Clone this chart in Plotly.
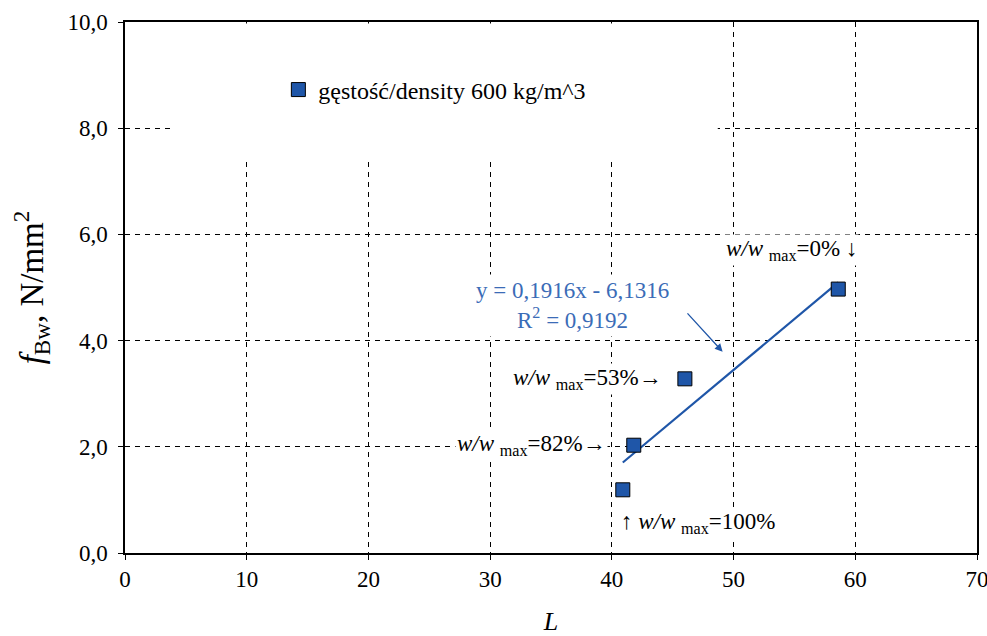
import numpy as np
import plotly.graph_objects as go

# Measured points: L versus f_Bw for density 600 kg/m^3
L_vals = [58.6, 46.0, 41.8, 40.9]
f_vals = [4.97, 3.28, 2.03, 1.19]
moisture_labels = ["0%", "53%", "82%", "100%"]

# Linear trend reported on the chart
slope = 0.1916
intercept = -6.1316
r_squared = 0.9192

x_ticks = [0, 10, 20, 30, 40, 50, 60, 70]
y_ticks = [0, 2, 4, 6, 8, 10]

FONT = "Liberation Serif"
BLUE = "#1F56A8"
TEXT_BLUE = "#3B6CB7"

fig = go.Figure()

# trend line over the data span
tx = np.array([min(L_vals), max(L_vals)])
ty = slope * tx + intercept
fig.add_trace(go.Scatter(x=tx, y=ty, mode="lines",
                         line=dict(color=BLUE, width=2.2),
                         showlegend=False, hoverinfo="skip"))

fig.add_trace(go.Scatter(
    x=L_vals, y=f_vals, mode="markers",
    name="gęstość/density 600 kg/m^3",
    marker=dict(symbol="square", size=14, color=BLUE,
                line=dict(color="black", width=1)),
))

# white panel behind the legend hides the grid there
fig.add_shape(type="rect", xref="x", yref="y", x0=4.1, x1=48.7, y0=7.42, y1=9.97,
              fillcolor="white", line=dict(width=0), layer="between")

ann_font = dict(family=FONT, size=23, color="black")

def ww(pct):
    return "<i>w/w</i> <sub>max</sub>=" + pct

annotations = [
    dict(x=60.3, y=5.7, text=ww(moisture_labels[0]) + " ↓", xanchor="right", yanchor="middle"),
    dict(x=44.3, y=3.28, text=ww(moisture_labels[1]) + "→", xanchor="right", yanchor="middle"),
    dict(x=39.7, y=2.03, text=ww(moisture_labels[2]) + "→", xanchor="right", yanchor="middle"),
    dict(x=40.6, y=0.57, text="↑ " + ww(moisture_labels[3]), xanchor="left", yanchor="middle"),
]
for a in annotations:
    fig.add_annotation(xref="x", yref="y", showarrow=False, bgcolor="white",
                       font=ann_font, borderpad=1, **a)

eq_text = ("y = {:.4f}x - {:.4f}".format(slope, -intercept).replace(".", ",")
           + "<br>R<sup>2</sup> = " + "{:.4f}".format(r_squared).replace(".", ","))
fig.add_annotation(xref="x", yref="y", x=36.8, y=4.67, text=eq_text, showarrow=False,
                   bgcolor="white", font=dict(family=FONT, size=23, color=TEXT_BLUE),
                   align="center", borderpad=3)

# pointer from the equation to the trend line
fig.add_annotation(xref="x", yref="y", axref="x", ayref="y",
                   x=49.1, y=3.79, ax=46.1, ay=4.54, text="", showarrow=True,
                   arrowhead=2, arrowsize=1.2, arrowwidth=1.3, arrowcolor=BLUE)

fig.update_layout(
    width=987, height=636,
    margin=dict(l=125, r=10, t=22, b=83),
    paper_bgcolor="white", plot_bgcolor="white",
    separators=",.",
    font=dict(family=FONT, size=23, color="black"),
    legend=dict(x=0.18, y=0.872, xanchor="left", yanchor="middle",
                bgcolor="rgba(0,0,0,0)", font=dict(family=FONT, size=24)),
)

fig.update_xaxes(range=[0, 70], tickvals=x_ticks, tickformat="d",
                 automargin=False, ticklabeloverflow="allow",
                 showgrid=True, gridcolor="black", gridwidth=1, griddash="5px,5px",
                 showline=True, linecolor="black", linewidth=1.5, mirror=True,
                 ticks="outside", ticklen=5, tickcolor="black",
                 ticklabelstandoff=0,
                 zeroline=False,
                 tickfont=dict(family=FONT, size=23),
                 title=dict(text="<i>L</i>", font=dict(family=FONT, size=26), standoff=31))
fig.update_yaxes(range=[0, 10], tickvals=y_ticks, tickformat=".1f",
                 automargin=False, ticklabeloverflow="allow",
                 showgrid=True, gridcolor="black", gridwidth=1, griddash="5px,5px",
                 showline=True, linecolor="black", linewidth=1.5, mirror=True,
                 ticks="outside", ticklen=5, tickcolor="black",
                 ticklabelstandoff=6,
                 zeroline=False,
                 tickfont=dict(family=FONT, size=23),
                 title=dict(text="<i>f</i><sub>Bw</sub>, N/mm<sup>2</sup>",
                            font=dict(family=FONT, size=33), standoff=14))

fig.write_html("out.html")
